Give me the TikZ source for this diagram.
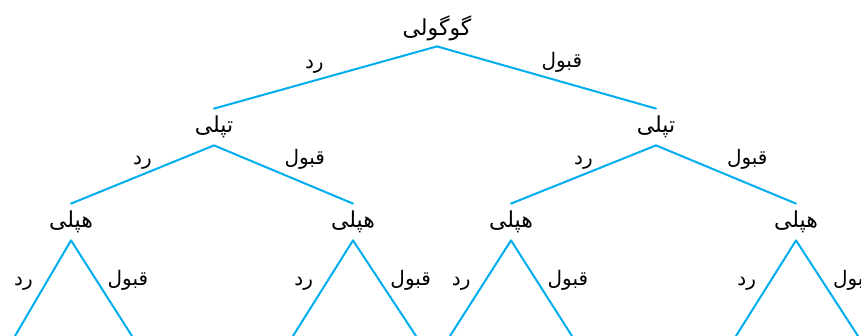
\documentclass[tikz,border=0pt]{standalone}
\usepackage{fontspec}
\usetikzlibrary{positioning}
\newfontfamily\arabicfont[Script=Arabic]{DejaVu Sans}
\TeXXeTstate=1
\definecolor{branchblue}{RGB}{0,174,239}
\tikzset{
  person/.style={inner sep=0pt,minimum height=18pt,font=\arabicfont\fontsize{11}{13}\selectfont},
  choice/.style={inner sep=2pt,font=\arabicfont\fontsize{10}{12}\selectfont},
  branch/.style={draw=branchblue,line width=1pt}
}
\newcommand{\fa}[1]{\beginR #1\endR}
\begin{document}
\begin{tikzpicture}[line cap=round,line join=round,x=0.5pt,y=-0.5pt]
  \useasboundingbox (0,0) rectangle (861,336);
  \clip (0,0) rectangle (861,336);
  % names
  \node[person] (g) at (437,28) {\fa{گوگولی}};
  \node[person] (t1) at (214,127) {\fa{تپلی}};
  \node[person] (t2) at (656,127) {\fa{تپلی}};
  \node[person] (h1) at (71,222) {\fa{هپلی}};
  \node[person] (h2) at (353,222) {\fa{هپلی}};
  \node[person] (h3) at (511,222) {\fa{هپلی}};
  \node[person] (h4) at (796,222) {\fa{هپلی}};
  % leaves
  \coordinate (l1) at (15,336);
  \coordinate (l2) at (132,336);
  \coordinate (l3) at (293,336);
  \coordinate (l4) at (416,336);
  \coordinate (l5) at (450,336);
  \coordinate (l6) at (572,336);
  \coordinate (l7) at (736,336);
  \coordinate (l8) at (858,336);
  % first level
  \draw[branch] (g.south) -- node[choice,pos=0.55,above=1pt] {\fa{رد}} (t1.north);
  \draw[branch] (g.south) -- node[choice,pos=0.57,above=2pt] {\fa{قبول}} (t2.north);
  % second level
  \draw[branch] (t1.south) -- node[choice,pos=0.5,above] {\fa{رد}} (h1.north);
  \draw[branch] (t1.south) -- node[choice,pos=0.5,above right=0pt and -2pt] {\fa{قبول}} (h2.north);
  \draw[branch] (t2.south) -- node[choice,pos=0.5,above] {\fa{رد}} (h3.north);
  \draw[branch] (t2.south) -- node[choice,pos=0.5,above right=0pt and -2pt] {\fa{قبول}} (h4.north);
  % third level
  \draw[branch] (h1.south) -- node[choice,pos=0.45,left=4pt] {\fa{رد}} (l1);
  \draw[branch] (h1.south) -- node[choice,pos=0.42,right=3pt] {\fa{قبول}} (l2);
  \draw[branch] (h2.south) -- node[choice,pos=0.45,left=4pt] {\fa{رد}} (l3);
  \draw[branch] (h2.south) -- node[choice,pos=0.42,right=3pt] {\fa{قبول}} (l4);
  \draw[branch] (h3.south) -- node[choice,pos=0.45,left=4pt] {\fa{رد}} (l5);
  \draw[branch] (h3.south) -- node[choice,pos=0.42,right=3pt] {\fa{قبول}} (l6);
  \draw[branch] (h4.south) -- node[choice,pos=0.45,left=4pt] {\fa{رد}} (l7);
  \draw[branch] (h4.south) -- node[choice,pos=0.42,right=3pt] {\fa{قبول}} (l8);
\end{tikzpicture}
\end{document}
